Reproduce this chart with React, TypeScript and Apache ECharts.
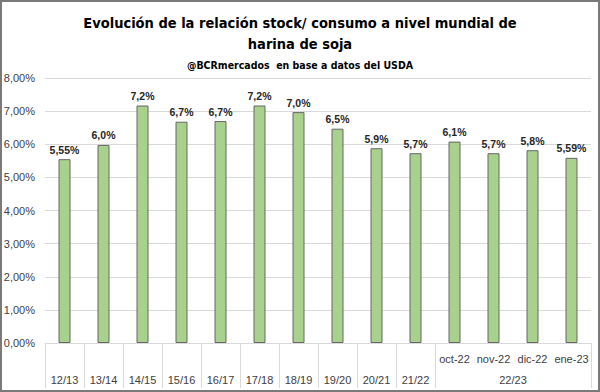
import React, { useEffect, useRef } from "react";
import * as echarts from "echarts";

const categories = ["12/13", "13/14", "14/15", "15/16", "16/17", "17/18", "18/19", "19/20", "20/21", "21/22", "oct-22", "nov-22", "dic-22", "ene-23"];
const values = [5.55, 5.98, 7.17, 6.68, 6.7, 7.17, 6.97, 6.47, 5.88, 5.73, 6.08, 5.73, 5.82, 5.59];
const valueLabels = ["5,55%", "6,0%", "7,2%", "6,7%", "6,7%", "7,2%", "7,0%", "6,5%", "5,9%", "5,7%", "6,1%", "5,7%", "5,8%", "5,59%"];
const groupLabel = "22/23";
const groupStart = 10;
const groupEnd = 13;
const yTicks = [0, 1, 2, 3, 4, 5, 6, 7, 8];

export default function App() {
  const ref = useRef<HTMLDivElement>(null);
  useEffect(() => {
    if (!ref.current) return;
    const chart = echarts.init(ref.current, null, { renderer: "svg" });
    const groupCenter = (groupStart + groupEnd + 1) / 2;
    chart.setOption({
      animation: false,
      backgroundColor: "#ffffff",
      title: [
        {
          text: "Evolución de la relación stock/ consumo a nivel mundial de\nharina de soja",
          left: "center",
          top: 7,
          textStyle: {
            fontFamily: "'DejaVu Sans Condensed', 'Liberation Sans Narrow', sans-serif",
            fontWeight: "bold",
            fontSize: 14.5,
            lineHeight: 21,
            color: "#000000",
          },
        },
        {
          text: "@BCRmercados  en base a datos del USDA",
          left: "center",
          top: 54,
          textStyle: {
            fontFamily: "'DejaVu Sans Condensed', sans-serif",
            fontWeight: "bold",
            fontSize: 10.5,
            color: "#000000",
          },
        },
      ],
      grid: { left: 45, right: 9, top: 78, bottom: 49, containLabel: false, outerBoundsMode: "none" },
      xAxis: [
        {
          type: "category",
          data: categories,
          axisLine: { show: true, lineStyle: { color: "#d9d9d9" } },
          axisTick: {
            show: true,
            length: 45,
            interval: (index: number) => index <= groupStart,
            lineStyle: { color: "#d9d9d9" },
          },
          axisLabel: {
            interval: 0,
            margin: 5,
            fontFamily: "Liberation Sans",
            fontSize: 11,
            lineHeight: 21,
            color: "#404040",
            formatter: (v: string, i: number) => (i < groupStart ? "\n" + v : v),
          },
        },
        {
          type: "value",
          position: "bottom",
          min: 0,
          max: categories.length,
          interval: groupCenter,
          axisLine: { show: false },
          axisTick: { show: false },
          splitLine: { show: false },
          axisLabel: {
            margin: 31,
            fontFamily: "Liberation Sans",
            fontSize: 11,
            color: "#404040",
            showMinLabel: true,
            showMaxLabel: false,
            formatter: (v: number) => (v === groupCenter ? groupLabel : ""),
          },
        },
      ],
      yAxis: {
        type: "value",
        min: yTicks[0],
        max: yTicks[yTicks.length - 1],
        interval: 1,
        axisLine: { show: false },
        axisTick: { show: false },
        splitLine: { lineStyle: { color: "#d9d9d9" } },
        axisLabel: {
          margin: 10,
          fontFamily: "Liberation Sans",
          fontSize: 11,
          color: "#404040",
          formatter: (v: number) => v.toFixed(2).replace(".", ",") + "%",
        },
      },
      series: [
        {
          type: "bar",
          xAxisIndex: 0,
          data: values,
          barWidth: 12,
          itemStyle: { color: "#a9d18e", borderColor: "#666666", borderWidth: 1 },
          label: {
            show: true,
            position: "top",
            distance: 4,
            fontFamily: "Liberation Sans",
            fontWeight: "bold",
            fontSize: 10.5,
            color: "#262626",
            formatter: (p: any) => valueLabels[p.dataIndex],
          },
        },
      ],
      graphic: [
        {
          type: "rect",
          shape: { x: 1, y: 1, width: 598, height: 390 },
          style: { fill: "none", stroke: "#7a7a7a", lineWidth: 2 },
          z: 100,
        },
      ],
    });
    return () => chart.dispose();
  }, []);
  return (
    <div style={{ position: "fixed", left: 0, top: 0, width: 600, height: 392, background: "#fff" }}>
      <div ref={ref} style={{ width: 600, height: 392 }} />
    </div>
  );
}
